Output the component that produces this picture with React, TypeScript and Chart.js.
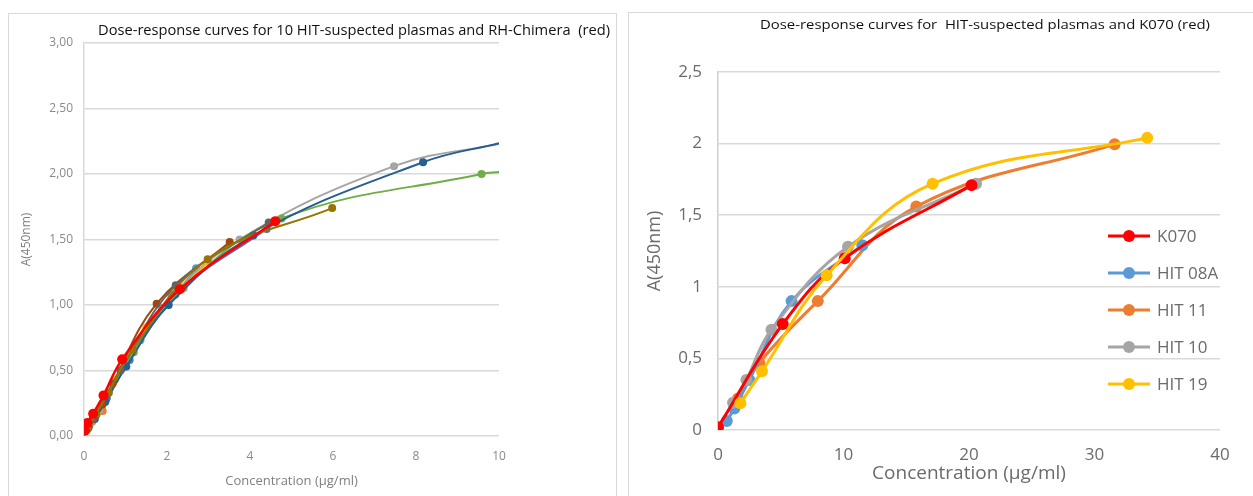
import React, { useEffect, useRef } from "react";
import { Chart, registerables } from "chart.js";
Chart.register(...registerables);

// ---------- Left chart data (10 HIT-suspected plasmas + RH-Chimera) ----------
const leftXTicks = [0, 2, 4, 6, 8, 10];
const leftYTicks = [0, 0.5, 1, 1.5, 2, 2.5, 3];

const p1Conc = [0.06, 0.13, 0.27, 0.53, 1.36, 2.7];
const p1Abs = [0.05, 0.08, 0.15, 0.275, 0.73, 1.28];
const p2Conc = [0.05, 0.2, 0.45, 1.05, 2.1];
const p2Abs = [0.04, 0.11, 0.19, 0.6, 1.08];
const p3Conc = [0.1, 0.37, 0.93, 1.87, 3.75, 7.47, 10];
const p3Abs = [0.06, 0.2, 0.52, 0.98, 1.5, 2.06, 2.23];
const p4Conc = [0.08, 0.3, 0.75, 1.5, 3.0];
const p4Abs = [0.05, 0.17, 0.43, 0.83, 1.33];
const p5Conc = [0.1, 0.55, 1.1, 2.2, 4.4];
const p5Abs = [0.06, 0.29, 0.58, 1.08, 1.58];
const p6Conc = [0.07, 0.3, 0.6, 1.2, 2.4, 4.76, 9.58, 10];
const p6Abs = [0.05, 0.16, 0.33, 0.64, 1.13, 1.66, 2.0, 2.015];
const p7Conc = [0.06, 0.26, 0.51, 1.02, 2.04, 4.08, 8.17, 10];
const p7Abs = [0.05, 0.13, 0.26, 0.53, 1.0, 1.53, 2.09, 2.235];
const p8Conc = [0.11, 0.22, 0.44, 0.69, 1.75, 3.51];
const p8Abs = [0.07, 0.13, 0.24, 0.4, 1.01, 1.48];
const p9Conc = [0.05, 0.21, 0.88, 2.21, 4.45];
const p9Abs = [0.05, 0.13, 0.5, 1.15, 1.63];
const p10Conc = [0.08, 0.29, 0.59, 1.17, 2.98, 5.98];
const p10Abs = [0.06, 0.17, 0.33, 0.66, 1.35, 1.74];
const rhConc = [0.02, 0.08, 0.22, 0.47, 0.92, 2.31, 4.61];
const rhAbs = [0.04, 0.1, 0.17, 0.31, 0.585, 1.12, 1.64];

const leftSeriesNames = ["P1", "P2", "P3", "P4", "P5", "P6", "P7", "P8", "P9", "P10", "RH-Chimera"];
const leftSeriesColors = ["#5B9BD5", "#ED7D31", "#A5A5A5", "#FFC000", "#4472C4", "#70AD47", "#255E91", "#9E480E", "#636363", "#997300", "#FF0000"];
const leftSeriesConc = [p1Conc, p2Conc, p3Conc, p4Conc, p5Conc, p6Conc, p7Conc, p8Conc, p9Conc, p10Conc, rhConc];
const leftSeriesAbs = [p1Abs, p2Abs, p3Abs, p4Abs, p5Abs, p6Abs, p7Abs, p8Abs, p9Abs, p10Abs, rhAbs];

// ---------- Right chart data (HIT-suspected plasmas + K070) ----------
const rightXTicks = [0, 10, 20, 30, 40];
const rightYTicks = [0, 0.5, 1, 1.5, 2, 2.5];

const k070Conc = [0, 5.16, 10.1, 20.2];
const k070Abs = [0.02, 0.74, 1.2, 1.71];
const hit08aConc = [0.7, 1.3, 2.5, 5.86, 11.5];
const hit08aAbs = [0.063, 0.15, 0.35, 0.9, 1.29];
const hit11Conc = [1.6, 3.29, 7.95, 15.8, 31.6];
const hit11Abs = [0.22, 0.47, 0.9, 1.56, 1.995];
const hit10Conc = [1.2, 2.26, 4.26, 10.36, 20.56];
const hit10Abs = [0.19, 0.35, 0.7, 1.28, 1.72];
const hit19Conc = [1.78, 3.5, 8.66, 17.1, 34.2];
const hit19Abs = [0.186, 0.41, 1.08, 1.72, 2.04];

const rightSeriesNames = ["K070", "HIT 08A", "HIT 11", "HIT 10", "HIT 19"];
const rightSeriesColors = ["#FF0000", "#5B9BD5", "#ED7D31", "#A5A5A5", "#FFC000"];
const rightSeriesConc = [k070Conc, hit08aConc, hit11Conc, hit10Conc, hit19Conc];
const rightSeriesAbs = [k070Abs, hit08aAbs, hit11Abs, hit10Abs, hit19Abs];
const rightDrawOrder = [1, 3, 5, 2, 0];

const leftTitle = "Dose-response curves for 10 HIT-suspected plasmas and RH-Chimera  (red)";
const rightTitle = "Dose-response curves for  HIT-suspected plasmas and K070 (red)";

const FONT = "'Open Sans', 'Noto Sans', sans-serif";

const toPoints = (xs: number[], ys: number[]) => xs.map((x, i) => ({ x, y: ys[i] }));

const insideLegend = {
  id: "insideLegend",
  afterDraw(chart: any) {
    const opts = chart.options.plugins.insideLegend;
    if (!opts || !opts.display) return;
    const { ctx, chartArea } = chart;
    chart.data.datasets.forEach((ds: any, i: number) => {
      const y = chartArea.top + opts.top + i * opts.step;
      const x0 = chartArea.left + opts.left;
      ctx.save();
      ctx.strokeStyle = ds.borderColor;
      ctx.lineWidth = 3;
      ctx.beginPath();
      ctx.moveTo(x0, y);
      ctx.lineTo(x0 + opts.lineLen, y);
      ctx.stroke();
      ctx.fillStyle = ds.borderColor;
      ctx.beginPath();
      ctx.arc(x0 + opts.lineLen / 2, y, 6, 0, Math.PI * 2);
      ctx.fill();
      ctx.fillStyle = opts.color;
      ctx.font = opts.font;
      ctx.textBaseline = "middle";
      ctx.textAlign = "left";
      ctx.fillText(ds.label, x0 + opts.lineLen + 7, y + 1);
      ctx.restore();
    });
  },
};

function FitText({ text, left, top, width, size, color }: any) {
  const ref = useRef<HTMLDivElement>(null);
  useEffect(() => {
    const el = ref.current;
    if (!el) return;
    const c = document.createElement("canvas").getContext("2d")!;
    c.font = `${size}px ${FONT}`;
    const w = c.measureText(text).width;
    el.style.transform = `scaleX(${width / w})`;
  }, [text, width, size]);
  return (
    <div
      ref={ref}
      style={{
        position: "absolute",
        left,
        top,
        whiteSpace: "pre",
        fontFamily: FONT,
        fontSize: size,
        lineHeight: `${size + 4}px`,
        color,
        transformOrigin: "left center",
      }}
    >
      {text}
    </div>
  );
}

function LeftChart() {
  const ref = useRef<HTMLCanvasElement>(null);
  useEffect(() => {
    const datasets = leftSeriesNames.map((name, i) => {
      const isRed = i === leftSeriesNames.length - 1;
      return {
        label: name,
        data: toPoints(leftSeriesConc[i], leftSeriesAbs[i]),
        borderColor: leftSeriesColors[i],
        backgroundColor: leftSeriesColors[i],
        borderWidth: isRed ? 2.5 : 2,
        tension: 0.4,
        showLine: true,
        pointRadius: (ctx: any) => (ctx.raw && ctx.raw.x >= 10 ? 0 : isRed ? 5 : 4),
        pointBorderWidth: 0,
        order: isRed ? 0 : 11 - i,
      };
    });
    const chart = new Chart(ref.current!, {
      type: "scatter",
      data: { datasets },
      options: {
        animation: false,
        responsive: false,
        devicePixelRatio: 1,
        layout: { padding: { top: 30, right: 118, bottom: 0, left: 0 } },
        plugins: { legend: { display: false }, tooltip: { enabled: false } },
        scales: {
          x: {
            type: "linear",
            min: 0,
            max: 10,
            afterBuildTicks: (axis: any) => {
              axis.ticks = leftXTicks.map((v) => ({ value: v }));
            },
            afterFit: (axis: any) => {
              axis.height = 60;
            },
            grid: { display: false, drawTicks: false },
            border: { display: false },
            ticks: { color: "#8a8a8a", font: { family: FONT, size: 12 }, padding: 13 },
            title: {
              display: true,
              text: "Concentration (µg/ml)",
              color: "#7f7f7f",
              font: { family: FONT, size: 13 },
              padding: { top: 0, bottom: 7 },
            },
          },
          y: {
            type: "linear",
            min: 0,
            max: 3,
            afterBuildTicks: (axis: any) => {
              axis.ticks = leftYTicks.map((v) => ({ value: v }));
            },
            afterFit: (axis: any) => {
              axis.width = 76;
            },
            grid: { color: "#d9d9d9", lineWidth: 1.5, drawTicks: false },
            border: { display: true, color: "#d9d9d9", width: 1.5 },
            ticks: {
              color: "#8a8a8a",
              font: { family: FONT, size: 12 },
              padding: 11,
              callback: (v: any) => Number(v).toFixed(2).replace(".", ","),
            },
            title: {
              display: true,
              text: "A(450nm)",
              color: "#7f7f7f",
              font: { family: FONT, size: 12 },
              padding: { top: 11, bottom: 0 },
            },
          },
        },
      } as any,
    });
    return () => chart.destroy();
  }, []);
  return (
    <canvas
      ref={ref}
      width={609}
      height={483}
      style={{ position: "absolute", left: 8, top: 13, width: 609, height: 483 }}
    />
  );
}

function RightChart() {
  const ref = useRef<HTMLCanvasElement>(null);
  useEffect(() => {
    const datasets = rightSeriesNames.map((name, i) => ({
      label: name,
      data: toPoints(rightSeriesConc[i], rightSeriesAbs[i]),
      borderColor: rightSeriesColors[i],
      backgroundColor: rightSeriesColors[i],
      borderWidth: 3,
      tension: 0.4,
      showLine: true,
      pointRadius: 6,
      pointBorderWidth: 0,
      order: rightDrawOrder[i],
    }));
    const chart = new Chart(ref.current!, {
      type: "scatter",
      data: { datasets },
      plugins: [insideLegend],
      options: {
        animation: false,
        responsive: false,
        devicePixelRatio: 1,
        layout: { padding: { top: 59, right: 33, bottom: 0, left: 0 } },
        plugins: {
          legend: { display: false },
          tooltip: { enabled: false },
          insideLegend: {
            display: true,
            left: 390,
            top: 164,
            step: 37,
            lineLen: 42,
            color: "#6b6b6b",
            font: `17px ${FONT}`,
          },
        },
        scales: {
          x: {
            type: "linear",
            min: 0,
            max: 40,
            afterBuildTicks: (axis: any) => {
              axis.ticks = rightXTicks.map((v) => ({ value: v }));
            },
            afterFit: (axis: any) => {
              axis.height = 66;
            },
            grid: { display: false, drawTicks: false },
            border: { display: false },
            ticks: { color: "#6b6b6b", font: { family: FONT, size: 17 }, padding: 15 },
            title: {
              display: true,
              text: "Concentration (µg/ml)",
              color: "#6b6b6b",
              font: { family: FONT, size: 19 },
              padding: { top: 0, bottom: 11 },
            },
          },
          y: {
            type: "linear",
            min: 0,
            max: 2.5,
            afterBuildTicks: (axis: any) => {
              axis.ticks = rightYTicks.map((v) => ({ value: v }));
            },
            afterFit: (axis: any) => {
              axis.width = 89;
            },
            grid: { color: "#d9d9d9", lineWidth: 1.5, drawTicks: false },
            border: { display: true, color: "#d0d0d0", width: 1.5 },
            ticks: {
              color: "#6b6b6b",
              font: { family: FONT, size: 17 },
              padding: 16,
              callback: (v: any) => String(v).replace(".", ","),
            },
            title: {
              display: true,
              text: "A(450nm)",
              color: "#6b6b6b",
              font: { family: FONT, size: 18 },
              padding: { top: 15, bottom: 0 },
            },
          },
        },
      } as any,
    });
    return () => chart.destroy();
  }, []);
  return (
    <canvas
      ref={ref}
      width={624}
      height={483}
      style={{ position: "absolute", left: 629, top: 13, width: 624, height: 483 }}
    />
  );
}

export default function App() {
  useEffect(() => {
    document.body.style.margin = "0";
    document.body.style.overflow = "hidden";
    document.body.style.background = "#ffffff";
  }, []);
  return (
    <div style={{ position: "relative", width: 1253, height: 496, overflow: "hidden", background: "#fff" }}>
      <div
        style={{
          position: "absolute",
          left: 8,
          top: 13,
          width: 609,
          height: 500,
          border: "1.5px solid #d9d9d9",
          boxSizing: "border-box",
        }}
      />
      <div
        style={{
          position: "absolute",
          left: 628,
          top: 12,
          width: 640,
          height: 500,
          border: "1.5px solid #d9d9d9",
          boxSizing: "border-box",
        }}
      />
      <LeftChart />
      <RightChart />
      <FitText text={leftTitle} left={98} top={20} width={512} size={15} color="#111" />
      <FitText text={rightTitle} left={760} top={17} width={450} size={12.5} color="#111" />
    </div>
  );
}
